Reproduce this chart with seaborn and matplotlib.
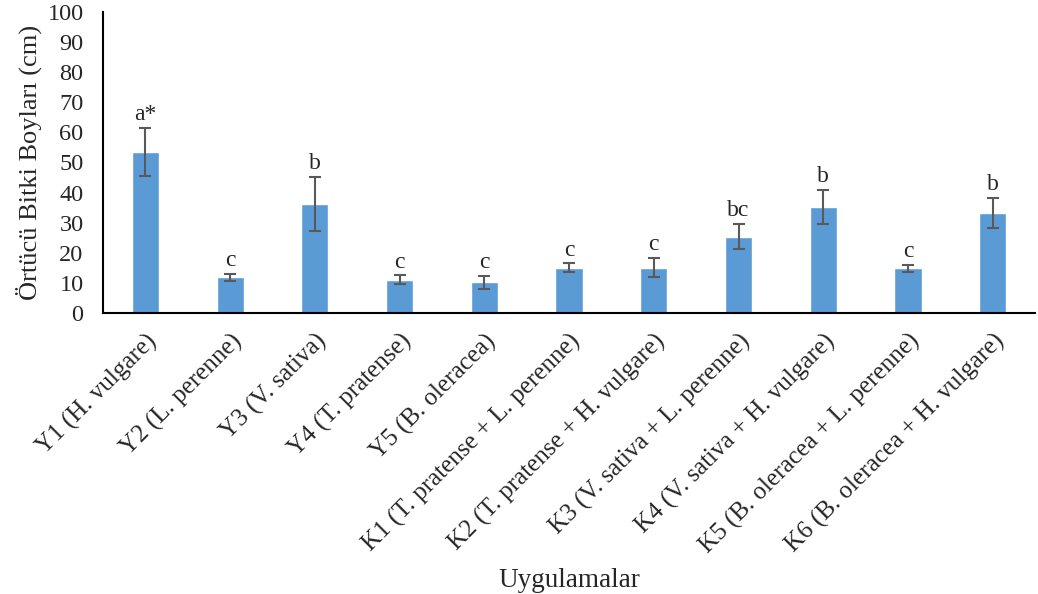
import matplotlib
matplotlib.use("Agg")
import matplotlib.pyplot as plt
import pandas as pd
import seaborn as sns

# data
uygulamalar = [
    "Y1 (H. vulgare)", "Y2 (L. perenne)", "Y3 (V. sativa)", "Y4 (T. pratense)",
    "Y5 (B. oleracea)", "K1 (T. pratense + L. perenne)",
    "K2 (T. pratense + H. vulgare)", "K3 (V. sativa + L. perenne)",
    "K4 (V. sativa + H. vulgare)", "K5 (B. oleracea + L. perenne)",
    "K6 (B. oleracea + H. vulgare)",
]
boy = [53.5, 11.9, 36.3, 11.0, 10.2, 15.1, 15.1, 25.4, 35.1, 14.8, 33.3]
hata = [8.0, 1.1, 9.0, 1.5, 2.1, 1.4, 3.2, 4.1, 5.7, 1.1, 5.0]
harfler = ["a*", "c", "b", "c", "c", "c", "c", "bc", "b", "c", "b"]

df = pd.DataFrame({"Uygulama": uygulamalar, "Boy": boy, "Hata": hata})

sns.set_style("white")
plt.rcParams["font.family"] = ["Liberation Serif", "DejaVu Serif"]

fig = plt.figure(figsize=(10.38, 5.94), dpi=100)
ax = fig.add_axes([0.0992, 0.473, 0.898, 0.507])

sns.barplot(data=df, x="Uygulama", y="Boy", color="#5B9BD5", width=0.32,
            saturation=1, errorbar=None, ax=ax)
ax.errorbar(range(len(boy)), boy, yerr=hata, fmt="none", ecolor="#595959",
            elinewidth=1.5, capsize=4.5, capthick=1.5)

# significance letters above the error bars
for i, (v, e, h) in enumerate(zip(boy, hata, harfler)):
    ax.annotate(h, (i, v + e), xytext=(0, 2), textcoords="offset points",
                ha="center", va="bottom", fontsize=17)

ax.set_ylim(0, 100)
ax.set_xlim(-0.5, len(boy) - 0.5)
ax.set_yticks(range(0, 101, 10))
ax.tick_params(axis="y", labelsize=17.5, length=0, pad=14)
ax.tick_params(axis="x", labelsize=18, length=0, pad=12)
plt.setp(ax.get_xticklabels(), rotation=45, ha="right", rotation_mode="anchor")

for s in ["top", "right"]:
    ax.spines[s].set_visible(False)
for s in ["left", "bottom"]:
    ax.spines[s].set_color("black")
    ax.spines[s].set_linewidth(1.5)

ax.set_ylabel("Örtücü Bitki Boyları (cm)", fontsize=19, labelpad=4)
ax.set_xlabel("Uygulamalar", fontsize=19.5)
ax.xaxis.set_label_coords(0.5, -0.845)

fig.savefig("out.png", dpi=100)
